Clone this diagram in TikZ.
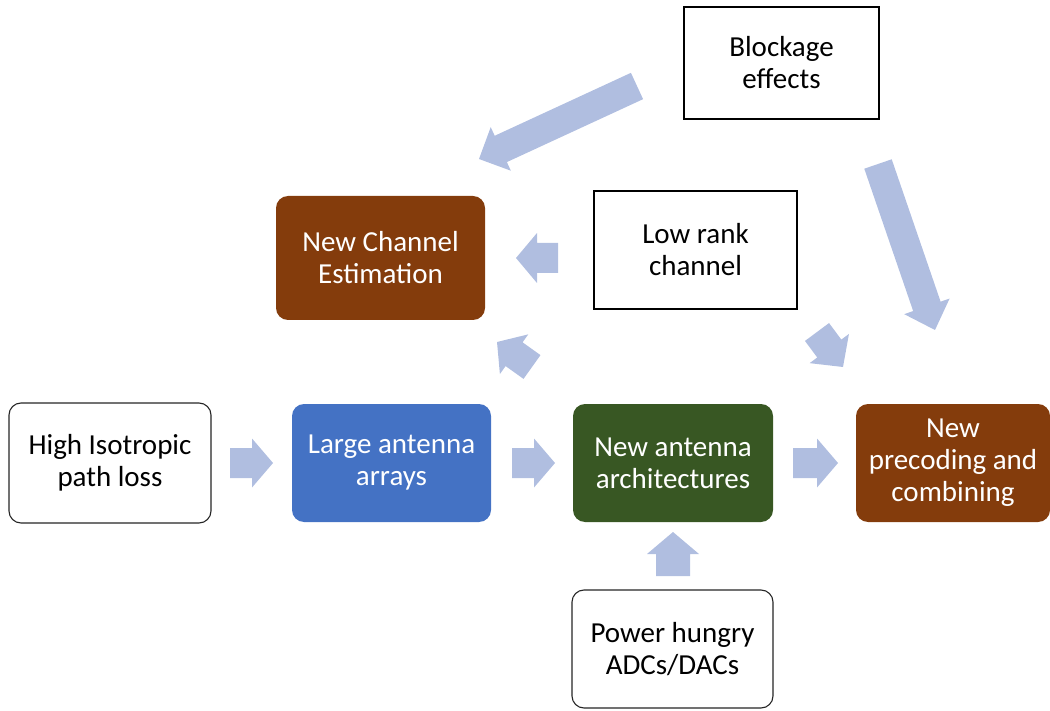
\documentclass[tikz,border=0pt]{standalone}
\usepackage{fontspec}
\setmainfont{Carlito}
\usetikzlibrary{calc}
\definecolor{arrowfill}{RGB}{176,190,224}
\definecolor{brownbox}{RGB}{132,60,12}
\definecolor{bluebox}{RGB}{68,114,196}
\definecolor{greenbox}{RGB}{56,87,35}
\newcommand{\blockarr}[5]{%
  \coordinate (ba) at ($(#2)!#5!(#1)$);
  \fill[arrowfill] ($(#1)!#3!90:(#2)$) -- ($(ba)!#3!-90:(#1)$) -- ($(ba)!#4!-90:(#1)$) -- (#2)
    -- ($(ba)!#4!90:(#1)$) -- ($(ba)!#3!90:(#1)$) -- ($(#1)!#3!-90:(#2)$) -- cycle;}
\begin{document}
\begin{tikzpicture}[x=1pt,y=-1pt,
  every node/.style={font=\fontsize{29}{32}\selectfont, align=center, inner sep=0pt},
  plainbox/.style={draw=black, line width=1.1pt, fill=white},
  roundwhite/.style={draw=black!85, line width=1.1pt, fill=white, rounded corners=12pt},
  colbox/.style={fill=#1, text=white, rounded corners=12pt}]
\useasboundingbox (0,0) rectangle (1050,711);
% nodes
\node[plainbox, minimum width=195pt, minimum height=112pt] (block) at (781.5,63) {Blockage\\effects};
\node[plainbox, minimum width=203pt, minimum height=118pt] (lowrank) at (695.5,250) {Low rank\\channel};
\node[colbox=brownbox, minimum width=209pt, minimum height=124pt] (chest) at (380.5,258) {New Channel\\Estimation};
\node[roundwhite, minimum width=202pt, minimum height=120pt] (high) at (110,463) {High Isotropic\\path loss};
\node[colbox=bluebox, minimum width=199pt, minimum height=118pt] (large) at (391.5,463) {Large antenna\\arrays};
\node[colbox=greenbox, minimum width=200pt, minimum height=118pt] (arch) at (673,463) {New antenna\\architectures};
\node[colbox=brownbox, minimum width=194pt, minimum height=118pt] (prec) at (953,463) {New\\precoding and\\combining};
\node[roundwhite, minimum width=201pt, minimum height=118pt] (power) at (672.5,649) {Power hungry\\ADCs/DACs};
% arrow endpoints
\coordinate (a1s) at (637,86);  \coordinate (a1t) at (479,159);
\coordinate (a2s) at (878,164); \coordinate (a2t) at (935,330);
\coordinate (a3s) at (817,332); \coordinate (a3t) at (843,367);
\coordinate (a4s) at (558,258); \coordinate (a4t) at (516,258);
\coordinate (a5s) at (532,367); \coordinate (a5t) at (497,342);
\coordinate (a6s) at (230,463); \coordinate (a6t) at (273,463);
\coordinate (a7s) at (512,463); \coordinate (a7t) at (555,463);
\coordinate (a8s) at (793,463); \coordinate (a8t) at (838,463);
\coordinate (a9s) at (673,576); \coordinate (a9t) at (673,532);
\blockarr{a1s}{a1t}{14.5pt}{24pt}{24pt}
\blockarr{a2s}{a2t}{14.5pt}{24pt}{25pt}
\blockarr{a3s}{a3t}{15pt}{24.5pt}{23pt}
\blockarr{a4s}{a4t}{15pt}{25pt}{21pt}
\blockarr{a5s}{a5t}{14.6pt}{24.4pt}{21pt}
\blockarr{a6s}{a6t}{15pt}{24.5pt}{21pt}
\blockarr{a7s}{a7t}{15pt}{24.5pt}{21pt}
\blockarr{a8s}{a8t}{15pt}{24.5pt}{21pt}
\blockarr{a9s}{a9t}{17pt}{26pt}{22pt}
\end{tikzpicture}
\end{document}
